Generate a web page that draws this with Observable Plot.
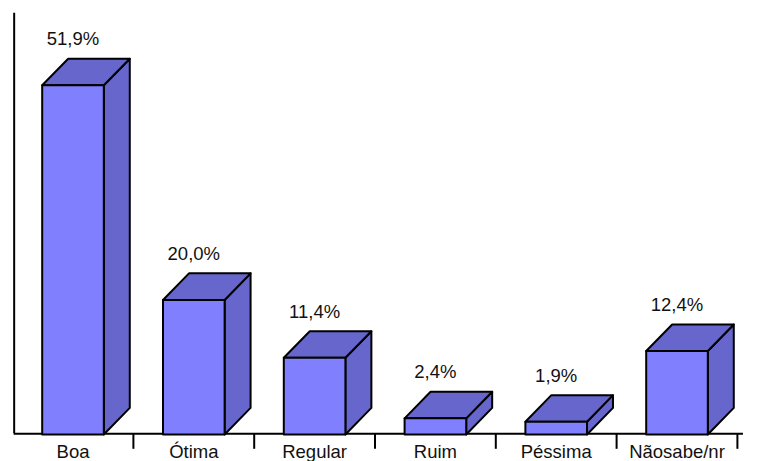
<!DOCTYPE html>
<html><head><meta charset="utf-8">
<script src="https://cdn.jsdelivr.net/npm/d3@7"></script>
<script src="https://cdn.jsdelivr.net/npm/@observablehq/plot@0.6"></script>
<style>html,body{margin:0;padding:0;background:#fff}svg{display:block}</style>
</head><body><div id="chart"></div>
<script>
const categories = ["Boa","Ótima","Regular","Ruim","Péssima","Nãosabe/nr"];
const values = [51.9,20.0,11.4,2.4,1.9,12.4];
const labels = ["51,9%","20,0%","11,4%","2,4%","1,9%","12,4%"];
const barHalf = 0.255, depthX = 0.215, depthY = 3.95;
const front = "#8080ff", shade = "#6666cc", ink = "#000";

const polys = [];
values.forEach((v,i)=>{
  const l=i-barHalf, r=i+barHalf, R=r+depthX, L=l+depthX, T=v+depthY, B=depthY;
  const add=(part,fill,pts)=>pts.forEach(([x,y])=>polys.push({id:i+part,fill,x,y}));
  add("side",shade,[[r,0],[R,B],[R,T],[r,v]]);
  add("top",shade,[[l,v],[L,T],[R,T],[r,v]]);
  add("front",front,[[l,0],[r,0],[r,v],[l,v]]);
});
const rows = categories.map((c,i)=>({c,i,v:values[i],t:labels[i]}));
const ticks = d3.range(6).map(i=>i+0.5);

const chart = Plot.plot({
  width:770,height:461,margin:0,
  x:{type:"linear",domain:[0,5],range:[72.5,676.5],axis:null},
  y:{type:"linear",domain:[0,51.9],range:[434,84.8],axis:null},
  marks:[
    Plot.ruleX([-0.487],{y1:0.1,y2:62.6,stroke:ink,strokeWidth:2}),
    Plot.ruleY([0.1],{x1:-0.487,x2:5.55,stroke:ink,strokeWidth:2}),
    Plot.ruleX(ticks,{y1:0.1,y2:-2.2,stroke:ink,strokeWidth:2}),
    Plot.line(polys,{x:"x",y:"y",z:"id",fill:"fill",stroke:ink,strokeWidth:2,curve:"linear-closed",strokeLinejoin:"round"}),
    Plot.text(rows,{x:"i",y:"v",text:"t",dy:-46,fontSize:18.5,fontFamily:"Liberation Sans",fill:"#111"}),
    Plot.text(rows,{x:"i",y:0,text:"c",dy:18,fontSize:18.5,fontFamily:"Liberation Sans",fill:"#111"})
  ]
});
document.getElementById("chart").append(chart);
</script></body></html>
